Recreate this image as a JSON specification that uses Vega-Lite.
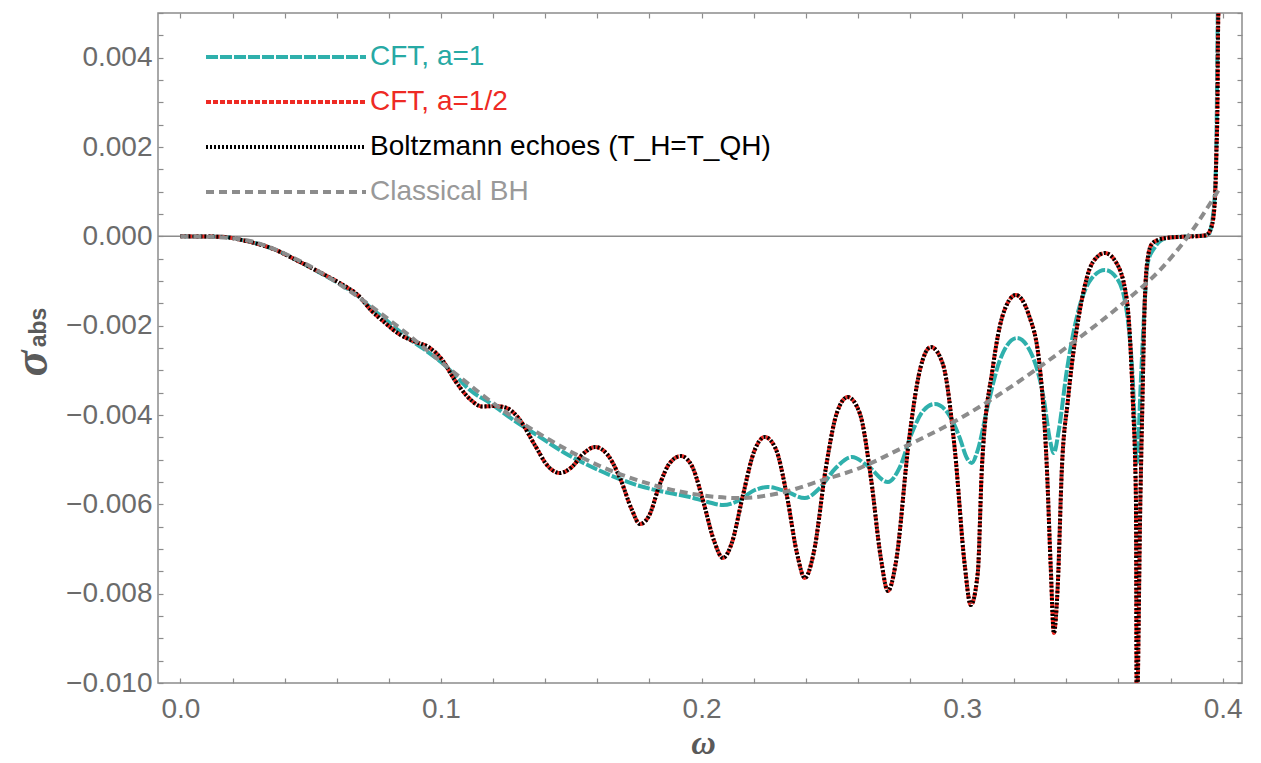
{
  "$schema": "https://vega.github.io/schema/vega-lite/v6.json",
  "width": 1084,
  "height": 670,
  "autosize": {"type": "none"},
  "padding": {"left": 158, "top": 13, "right": 19, "bottom": 80},
  "background": "white",
  "config": {
    "view": {"stroke": "#8c8c8c", "strokeWidth": 1.5},
    "axis": {"domain": false, "grid": false, "tickColor": "#8c8c8c", "tickWidth": 1.2, "tickSize": -5, "labelFont": "Liberation Sans", "labelFontSize": 28, "labelColor": "#6b6b6b", "titleColor": "#5a5a5a"},
    "legend": {"orient": "none", "legendX": 47, "legendY": 30, "padding": 0, "symbolType": "M-8,0H8", "symbolSize": 400, "symbolStrokeWidth": 3, "symbolFillColor": "transparent", "symbolOffset": 67, "labelOffset": 70, "labelFont": "Liberation Sans", "labelFontSize": 28, "labelLimit": 800, "rowPadding": 17}
  },
  "datasets": {
    "curves": [
      {"series":"a1","w":0,"s":0},{"series":"a1","w":0.0155,"s":-0.000009},{"series":"a1","w":0.0248,"s":-0.000099},{"series":"a1","w":0.0367,"s":-0.000307},{"series":"a1","w":0.0439,"s":-0.000515},{"series":"a1","w":0.0555,"s":-0.000878},{"series":"a1","w":0.0631,"s":-0.001135},{"series":"a1","w":0.0681,"s":-0.001337},{"series":"a1","w":0.0731,"s":-0.001605},{"series":"a1","w":0.0785,"s":-0.001852},{"series":"a1","w":0.0835,"s":-0.002098},{"series":"a1","w":0.09,"s":-0.002389},{"series":"a1","w":0.095,"s":-0.00259},{"series":"a1","w":0.1,"s":-0.002814},{"series":"a1","w":0.1057,"s":-0.003128},{"series":"a1","w":0.1111,"s":-0.003441},{"series":"a1","w":0.1188,"s":-0.003732},{"series":"a1","w":0.1284,"s":-0.004135},{"series":"a1","w":0.138,"s":-0.004493},{"series":"a1","w":0.1475,"s":-0.004852},{"series":"a1","w":0.1571,"s":-0.005142},{"series":"a1","w":0.1667,"s":-0.005389},{"series":"a1","w":0.1763,"s":-0.00559},{"series":"a1","w":0.1859,"s":-0.005725},{"series":"a1","w":0.1955,"s":-0.005837},{"series":"a1","w":0.2024,"s":-0.005948},{"series":"a1","w":0.2082,"s":-0.006016},{"series":"a1","w":0.2139,"s":-0.005926},{"series":"a1","w":0.2197,"s":-0.005702},{"series":"a1","w":0.2254,"s":-0.005613},{"series":"a1","w":0.232,"s":-0.005702},{"series":"a1","w":0.2396,"s":-0.005859},{"series":"a1","w":0.2454,"s":-0.005635},{"series":"a1","w":0.2515,"s":-0.005187},{"series":"a1","w":0.2577,"s":-0.004941},{"series":"a1","w":0.2638,"s":-0.005142},{"series":"a1","w":0.2715,"s":-0.005501},{"series":"a1","w":0.2761,"s":-0.005165},{"series":"a1","w":0.2807,"s":-0.004404},{"series":"a1","w":0.2853,"s":-0.003889},{"series":"a1","w":0.2895,"s":-0.003754},{"series":"a1","w":0.2945,"s":-0.003956},{"series":"a1","w":0.2991,"s":-0.004516},{"series":"a1","w":0.3018,"s":-0.004963},{"series":"a1","w":0.3037,"s":-0.005075},{"series":"a1","w":0.306,"s":-0.004784},{"series":"a1","w":0.3099,"s":-0.003777},{"series":"a1","w":0.3145,"s":-0.002769},{"series":"a1","w":0.321,"s":-0.002277},{"series":"a1","w":0.3268,"s":-0.002657},{"series":"a1","w":0.3314,"s":-0.003665},{"series":"a1","w":0.3337,"s":-0.00456},{"series":"a1","w":0.3352,"s":-0.004851},{"series":"a1","w":0.3371,"s":-0.004337},{"series":"a1","w":0.3402,"s":-0.002993},{"series":"a1","w":0.3452,"s":-0.001538},{"series":"a1","w":0.3498,"s":-0.000934},{"series":"a1","w":0.3548,"s":-0.000754},{"series":"a1","w":0.3598,"s":-0.000978},{"series":"a1","w":0.3636,"s":-0.001874},{"series":"a1","w":0.3655,"s":-0.003217},{"series":"a1","w":0.367,"s":-0.005075},{"series":"a1","w":0.3686,"s":-0.003217},{"series":"a1","w":0.3697,"s":-0.001874},{"series":"a1","w":0.3713,"s":-0.000575},{"series":"a1","w":0.374,"s":-0.00024},{"series":"a1","w":0.3784,"s":-0.000038},{"series":"a1","w":0.3855,"s":-0.000004},{"series":"a1","w":0.3943,"s":0.000022},{"series":"a1","w":0.3962,"s":0.000432},{"series":"a1","w":0.3974,"s":0.001551},{"series":"a1","w":0.3979,"s":0.00379},{"series":"a1","w":0.3981,"s":0.004999},{"series":"a1","w":0.3984,"s":0.005514},
      {"series":"a12","w":0,"s":0},{"series":"a12","w":0.0155,"s":-0.000009},{"series":"a12","w":0.0248,"s":-0.000099},{"series":"a12","w":0.0367,"s":-0.000307},{"series":"a12","w":0.0439,"s":-0.000515},{"series":"a12","w":0.0555,"s":-0.000866},{"series":"a12","w":0.0631,"s":-0.001113},{"series":"a12","w":0.0681,"s":-0.001314},{"series":"a12","w":0.0731,"s":-0.00165},{"series":"a12","w":0.0785,"s":-0.001934},{"series":"a12","w":0.0835,"s":-0.002172},{"series":"a12","w":0.09,"s":-0.00236},{"series":"a12","w":0.095,"s":-0.002472},{"series":"a12","w":0.1,"s":-0.002731},{"series":"a12","w":0.1057,"s":-0.003255},{"series":"a12","w":0.1111,"s":-0.003643},{"series":"a12","w":0.1157,"s":-0.00381},{"series":"a12","w":0.1207,"s":-0.003799},{"series":"a12","w":0.1253,"s":-0.003844},{"series":"a12","w":0.1303,"s":-0.004113},{"series":"a12","w":0.136,"s":-0.004672},{"series":"a12","w":0.141,"s":-0.005142},{"series":"a12","w":0.1456,"s":-0.005299},{"series":"a12","w":0.1502,"s":-0.005165},{"series":"a12","w":0.1545,"s":-0.004874},{"series":"a12","w":0.1591,"s":-0.004717},{"series":"a12","w":0.1637,"s":-0.004874},{"series":"a12","w":0.1687,"s":-0.005411},{"series":"a12","w":0.1733,"s":-0.006128},{"series":"a12","w":0.1763,"s":-0.006441},{"series":"a12","w":0.1798,"s":-0.006262},{"series":"a12","w":0.184,"s":-0.005546},{"series":"a12","w":0.1878,"s":-0.005075},{"series":"a12","w":0.1921,"s":-0.004919},{"series":"a12","w":0.1963,"s":-0.005142},{"series":"a12","w":0.2005,"s":-0.005904},{"series":"a12","w":0.2047,"s":-0.006799},{"series":"a12","w":0.2082,"s":-0.007202},{"series":"a12","w":0.2116,"s":-0.006866},{"series":"a12","w":0.2159,"s":-0.005792},{"series":"a12","w":0.2201,"s":-0.004829},{"series":"a12","w":0.2243,"s":-0.004493},{"series":"a12","w":0.2285,"s":-0.004762},{"series":"a12","w":0.2327,"s":-0.005792},{"series":"a12","w":0.2366,"s":-0.00709},{"series":"a12","w":0.2396,"s":-0.00765},{"series":"a12","w":0.2431,"s":-0.007068},{"series":"a12","w":0.2477,"s":-0.005187},{"series":"a12","w":0.2519,"s":-0.003956},{"series":"a12","w":0.2561,"s":-0.003598},{"series":"a12","w":0.2608,"s":-0.003978},{"series":"a12","w":0.265,"s":-0.005411},{"series":"a12","w":0.2688,"s":-0.007202},{"series":"a12","w":0.2715,"s":-0.007941},{"series":"a12","w":0.2746,"s":-0.007292},{"series":"a12","w":0.2796,"s":-0.00456},{"series":"a12","w":0.2838,"s":-0.002993},{"series":"a12","w":0.288,"s":-0.002478},{"series":"a12","w":0.2926,"s":-0.002859},{"series":"a12","w":0.2972,"s":-0.004784},{"series":"a12","w":0.301,"s":-0.007359},{"series":"a12","w":0.3033,"s":-0.008254},{"series":"a12","w":0.306,"s":-0.007538},{"series":"a12","w":0.3076,"s":-0.005165},{"series":"a12","w":0.3118,"s":-0.002926},{"series":"a12","w":0.3156,"s":-0.001762},{"series":"a12","w":0.3206,"s":-0.001314},{"series":"a12","w":0.3256,"s":-0.001762},{"series":"a12","w":0.3298,"s":-0.002926},{"series":"a12","w":0.3325,"s":-0.005165},{"series":"a12","w":0.334,"s":-0.007404},{"series":"a12","w":0.3352,"s":-0.008881},{"series":"a12","w":0.3367,"s":-0.007807},{"series":"a12","w":0.3383,"s":-0.005165},{"series":"a12","w":0.3406,"s":-0.003665},{"series":"a12","w":0.3459,"s":-0.001426},{"series":"a12","w":0.3502,"s":-0.000575},{"series":"a12","w":0.3548,"s":-0.000374},{"series":"a12","w":0.359,"s":-0.000575},{"series":"a12","w":0.3632,"s":-0.001426},{"series":"a12","w":0.3655,"s":-0.003665},{"series":"a12","w":0.3667,"s":-0.005904},{"series":"a12","w":0.367,"s":-0.0108},{"series":"a12","w":0.3684,"s":-0.005904},{"series":"a12","w":0.3692,"s":-0.003665},{"series":"a12","w":0.3701,"s":-0.001426},{"series":"a12","w":0.3713,"s":-0.000463},{"series":"a12","w":0.3728,"s":-0.000172},{"series":"a12","w":0.3751,"s":-0.000083},{"series":"a12","w":0.3797,"s":-0.000027},{"series":"a12","w":0.3874,"s":-0.000004},{"series":"a12","w":0.3935,"s":0.000022},{"series":"a12","w":0.3957,"s":0.000215},{"series":"a12","w":0.397,"s":0.000813},{"series":"a12","w":0.3976,"s":0.001932},{"series":"a12","w":0.398,"s":0.003051},{"series":"a12","w":0.3982,"s":0.004551},{"series":"a12","w":0.3985,"s":0.00529},
      {"series":"bz","w":0,"s":0},{"series":"bz","w":0.0155,"s":-0.000009},{"series":"bz","w":0.0248,"s":-0.000099},{"series":"bz","w":0.0367,"s":-0.000307},{"series":"bz","w":0.0439,"s":-0.000515},{"series":"bz","w":0.0555,"s":-0.000866},{"series":"bz","w":0.0631,"s":-0.001113},{"series":"bz","w":0.0681,"s":-0.001314},{"series":"bz","w":0.0731,"s":-0.00165},{"series":"bz","w":0.0785,"s":-0.001934},{"series":"bz","w":0.0835,"s":-0.002172},{"series":"bz","w":0.09,"s":-0.00236},{"series":"bz","w":0.095,"s":-0.002472},{"series":"bz","w":0.1,"s":-0.002731},{"series":"bz","w":0.1057,"s":-0.003255},{"series":"bz","w":0.1111,"s":-0.003643},{"series":"bz","w":0.1157,"s":-0.00381},{"series":"bz","w":0.1207,"s":-0.003799},{"series":"bz","w":0.1253,"s":-0.003844},{"series":"bz","w":0.1303,"s":-0.004113},{"series":"bz","w":0.136,"s":-0.004672},{"series":"bz","w":0.141,"s":-0.005142},{"series":"bz","w":0.1456,"s":-0.005299},{"series":"bz","w":0.1502,"s":-0.005165},{"series":"bz","w":0.1545,"s":-0.004874},{"series":"bz","w":0.1591,"s":-0.004717},{"series":"bz","w":0.1637,"s":-0.004874},{"series":"bz","w":0.1687,"s":-0.005411},{"series":"bz","w":0.1733,"s":-0.006128},{"series":"bz","w":0.1763,"s":-0.006441},{"series":"bz","w":0.1798,"s":-0.006262},{"series":"bz","w":0.184,"s":-0.005546},{"series":"bz","w":0.1878,"s":-0.005075},{"series":"bz","w":0.1921,"s":-0.004919},{"series":"bz","w":0.1963,"s":-0.005142},{"series":"bz","w":0.2005,"s":-0.005904},{"series":"bz","w":0.2047,"s":-0.006799},{"series":"bz","w":0.2082,"s":-0.007202},{"series":"bz","w":0.2116,"s":-0.006866},{"series":"bz","w":0.2159,"s":-0.005792},{"series":"bz","w":0.2201,"s":-0.004829},{"series":"bz","w":0.2243,"s":-0.004493},{"series":"bz","w":0.2285,"s":-0.004762},{"series":"bz","w":0.2327,"s":-0.005792},{"series":"bz","w":0.2366,"s":-0.00709},{"series":"bz","w":0.2396,"s":-0.00765},{"series":"bz","w":0.2431,"s":-0.007068},{"series":"bz","w":0.2477,"s":-0.005187},{"series":"bz","w":0.2519,"s":-0.003956},{"series":"bz","w":0.2561,"s":-0.003598},{"series":"bz","w":0.2608,"s":-0.003978},{"series":"bz","w":0.265,"s":-0.005411},{"series":"bz","w":0.2688,"s":-0.007202},{"series":"bz","w":0.2715,"s":-0.007941},{"series":"bz","w":0.2746,"s":-0.007292},{"series":"bz","w":0.2796,"s":-0.00456},{"series":"bz","w":0.2838,"s":-0.002993},{"series":"bz","w":0.288,"s":-0.002478},{"series":"bz","w":0.2926,"s":-0.002859},{"series":"bz","w":0.2972,"s":-0.004784},{"series":"bz","w":0.301,"s":-0.007359},{"series":"bz","w":0.3033,"s":-0.008254},{"series":"bz","w":0.306,"s":-0.007538},{"series":"bz","w":0.3076,"s":-0.005165},{"series":"bz","w":0.3118,"s":-0.002926},{"series":"bz","w":0.3156,"s":-0.001762},{"series":"bz","w":0.3206,"s":-0.001314},{"series":"bz","w":0.3256,"s":-0.001762},{"series":"bz","w":0.3298,"s":-0.002926},{"series":"bz","w":0.3325,"s":-0.005165},{"series":"bz","w":0.334,"s":-0.007404},{"series":"bz","w":0.3352,"s":-0.008881},{"series":"bz","w":0.3367,"s":-0.007807},{"series":"bz","w":0.3383,"s":-0.005165},{"series":"bz","w":0.3406,"s":-0.003665},{"series":"bz","w":0.3459,"s":-0.001426},{"series":"bz","w":0.3502,"s":-0.000575},{"series":"bz","w":0.3548,"s":-0.000374},{"series":"bz","w":0.359,"s":-0.000575},{"series":"bz","w":0.3632,"s":-0.001426},{"series":"bz","w":0.3655,"s":-0.003665},{"series":"bz","w":0.3667,"s":-0.005904},{"series":"bz","w":0.367,"s":-0.0108},{"series":"bz","w":0.3684,"s":-0.005904},{"series":"bz","w":0.3692,"s":-0.003665},{"series":"bz","w":0.3701,"s":-0.001426},{"series":"bz","w":0.3713,"s":-0.000463},{"series":"bz","w":0.3728,"s":-0.000172},{"series":"bz","w":0.3751,"s":-0.000083},{"series":"bz","w":0.3797,"s":-0.000027},{"series":"bz","w":0.3874,"s":-0.000004},{"series":"bz","w":0.3935,"s":0.000022},{"series":"bz","w":0.3957,"s":0.000215},{"series":"bz","w":0.397,"s":0.000813},{"series":"bz","w":0.3976,"s":0.001932},{"series":"bz","w":0.398,"s":0.003051},{"series":"bz","w":0.3982,"s":0.004551},{"series":"bz","w":0.3985,"s":0.00529}
    ],
    "classical": [
      {"series":"cl","w":0,"s":0},{"series":"cl","w":0.0132,"s":-0.000016},{"series":"cl","w":0.0267,"s":-0.000105},{"series":"cl","w":0.0459,"s":-0.000553},{"series":"cl","w":0.065,"s":-0.001225},{"series":"cl","w":0.0842,"s":-0.002053},{"series":"cl","w":0.1034,"s":-0.002971},{"series":"cl","w":0.1226,"s":-0.003844},{"series":"cl","w":0.1418,"s":-0.00456},{"series":"cl","w":0.161,"s":-0.005142},{"series":"cl","w":0.1802,"s":-0.005546},{"series":"cl","w":0.1994,"s":-0.005792},{"series":"cl","w":0.2147,"s":-0.005859},{"series":"cl","w":0.2301,"s":-0.005747},{"series":"cl","w":0.2465,"s":-0.005456},{"series":"cl","w":0.2607,"s":-0.005187},{"series":"cl","w":0.2761,"s":-0.004762},{"series":"cl","w":0.2953,"s":-0.004202},{"series":"cl","w":0.3145,"s":-0.003531},{"series":"cl","w":0.3402,"s":-0.002478},{"series":"cl","w":0.3632,"s":-0.001426},{"series":"cl","w":0.3759,"s":-0.000754},{"series":"cl","w":0.3862,"s":-0.000038},{"series":"cl","w":0.3989,"s":0.001081}
    ]
  },
  "layer": [
    {
      "data": {"values": [{}]},
      "mark": {"type": "rule", "color": "#8c8c8c", "strokeWidth": 1.5},
      "encoding": {
        "y": {"datum": 0, "type": "quantitative",
          "axis": {"orient": "right", "values": [-0.01,-0.0095,-0.009,-0.0085,-0.008,-0.0075,-0.007,-0.0065,-0.006,-0.0055,-0.005,-0.0045,-0.004,-0.0035,-0.003,-0.0025,-0.002,-0.0015,-0.001,-0.0005,0,0.0005,0.001,0.0015,0.002,0.0025,0.003,0.0035,0.004,0.0045,0.005], "labels": false,
            "title": "abs", "titleFont": "Liberation Sans", "titleFontSize": 23, "titleFontWeight": "bold", "titleAngle": -90, "titleAlign": "center", "titleBaseline": "middle", "titleX": -1204, "titleY": 314}}
      }
    },
    {
      "data": {"name": "curves"},
      "mark": {"type": "line", "interpolate": "monotone", "clip": true},
      "encoding": {
        "x": {"field": "w", "type": "quantitative", "scale": {"domain": [-0.0086, 0.4074], "nice": false, "zero": false},
          "axis": {"orient": "bottom", "values": [0,0.02,0.04,0.06,0.08,0.1,0.12,0.14,0.16,0.18,0.2,0.22,0.24,0.26,0.28,0.3,0.32,0.34,0.36,0.38,0.4],
            "labelExpr": "abs(datum.value*10 - round(datum.value*10)) < 0.000001 ? format(datum.value, '.1f') : ''",
            "labelFlush": false, "labelPadding": 17,
            "title": "ω", "titleFont": "Liberation Serif", "titleFontSize": 34, "titleFontStyle": "italic", "titleFontWeight": "bold", "titleAlign": "center", "titleBaseline": "middle", "titleX": 545, "titleY": 60}},
        "y": {"field": "s", "type": "quantitative", "scale": {"domain": [-0.01, 0.005], "nice": false, "zero": false},
          "axis": {"orient": "left", "values": [-0.01,-0.0095,-0.009,-0.0085,-0.008,-0.0075,-0.007,-0.0065,-0.006,-0.0055,-0.005,-0.0045,-0.004,-0.0035,-0.003,-0.0025,-0.002,-0.0015,-0.001,-0.0005,0,0.0005,0.001,0.0015,0.002,0.0025,0.003,0.0035,0.004,0.0045,0.005],
            "labelExpr": "abs(datum.value*500 - round(datum.value*500)) < 0.000001 ? format(datum.value, '.3f') : ''",
            "labelPadding": 11, "labelFlush": false, "labelOverlap": false,
            "title": "σ", "titleFont": "Liberation Serif", "titleFontSize": 48, "titleFontStyle": "italic", "titleFontWeight": "bold", "titleAngle": -90, "titleAlign": "center", "titleBaseline": "middle", "titleX": -126, "titleY": 350}},
        "color": {"field": "series", "type": "nominal",
          "scale": {"domain": ["a1", "a12", "bz", "cl"], "range": ["#2fb0ac", "#ee2a24", "#000000", "#8c8c8c"]},
          "legend": {"title": null, "labelExpr": "datum.value == 'a1' ? 'CFT, a=1' : datum.value == 'a12' ? 'CFT, a=1/2' : datum.value == 'bz' ? 'Boltzmann echoes (T_H=T_QH)' : 'Classical BH'",
            "labelColor": {"expr": "datum.value == 'a1' ? '#27a9a4' : datum.value == 'a12' ? '#ee2a24' : datum.value == 'bz' ? '#000000' : '#999999'"}}},
        "strokeDash": {"field": "series", "type": "nominal",
          "scale": {"domain": ["a1", "a12", "bz", "cl"], "range": [[12, 2], [5, 2], [2, 2], [8, 5]]},
          "legend": {"title": null, "labelExpr": "datum.value == 'a1' ? 'CFT, a=1' : datum.value == 'a12' ? 'CFT, a=1/2' : datum.value == 'bz' ? 'Boltzmann echoes (T_H=T_QH)' : 'Classical BH'",
            "labelColor": {"expr": "datum.value == 'a1' ? '#27a9a4' : datum.value == 'a12' ? '#ee2a24' : datum.value == 'bz' ? '#000000' : '#999999'"}}},
        "strokeWidth": {"field": "series", "type": "nominal",
          "scale": {"domain": ["a1", "a12", "bz", "cl"], "range": [4, 4, 3.5, 2.5]}, "legend": null}
      }
    },
    {
      "data": {"name": "classical"},
      "mark": {"type": "line", "interpolate": "monotone", "clip": true},
      "encoding": {
        "x": {"field": "w", "type": "quantitative",
          "axis": {"orient": "top", "values": [0,0.02,0.04,0.06,0.08,0.1,0.12,0.14,0.16,0.18,0.2,0.22,0.24,0.26,0.28,0.3,0.32,0.34,0.36,0.38,0.4], "labels": false, "title": null}},
        "y": {"field": "s", "type": "quantitative", "axis": null},
        "color": {"field": "series", "type": "nominal",
          "scale": {"domain": ["a1", "a12", "bz", "cl"], "range": ["#2fb0ac", "#ee2a24", "#000000", "#8c8c8c"]},
          "legend": {"title": null, "labelExpr": "datum.value == 'a1' ? 'CFT, a=1' : datum.value == 'a12' ? 'CFT, a=1/2' : datum.value == 'bz' ? 'Boltzmann echoes (T_H=T_QH)' : 'Classical BH'",
            "labelColor": {"expr": "datum.value == 'a1' ? '#27a9a4' : datum.value == 'a12' ? '#ee2a24' : datum.value == 'bz' ? '#000000' : '#999999'"}}},
        "strokeDash": {"field": "series", "type": "nominal",
          "scale": {"domain": ["a1", "a12", "bz", "cl"], "range": [[12, 2], [5, 2], [2, 2], [8, 5]]},
          "legend": {"title": null, "labelExpr": "datum.value == 'a1' ? 'CFT, a=1' : datum.value == 'a12' ? 'CFT, a=1/2' : datum.value == 'bz' ? 'Boltzmann echoes (T_H=T_QH)' : 'Classical BH'",
            "labelColor": {"expr": "datum.value == 'a1' ? '#27a9a4' : datum.value == 'a12' ? '#ee2a24' : datum.value == 'bz' ? '#000000' : '#999999'"}}},
        "strokeWidth": {"field": "series", "type": "nominal",
          "scale": {"domain": ["a1", "a12", "bz", "cl"], "range": [4, 4, 3.5, 2.5]}, "legend": null}
      }
    }
  ],
  "resolve": {"axis": {"x": "independent", "y": "independent"}}
}
